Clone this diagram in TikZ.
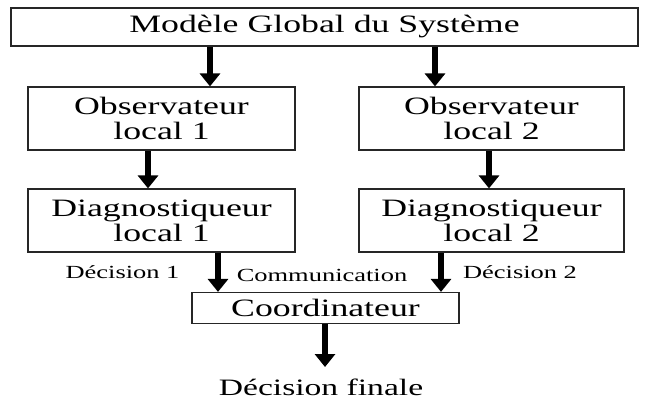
\documentclass[tikz,border=0pt]{standalone}
\usepackage{fontspec}
\setmainfont[FakeStretch=1.43]{Liberation Serif}
\usetikzlibrary{arrows.meta}
\begin{document}
\begin{tikzpicture}[x=1pt,y=-1pt,
  box/.style={draw=black!85, line width=1.2pt, inner sep=0pt, align=center,
    font=\fontsize{25}{25}\selectfont},
  bigarrow/.style={line width=6pt, -{Triangle[width=20pt,length=13pt]}},
  lbl/.style={anchor=base, inner sep=0pt, font=\fontsize{18.5}{20}\selectfont},
  final/.style={anchor=base, inner sep=0pt, font=\fontsize{23.5}{25}\selectfont}]
\useasboundingbox (0,0) rectangle (647,400);

% boxes
\node[box, minimum width=627pt, minimum height=38pt] (model) at (324.5,27) {Modèle Global du Système};
\node[box, minimum width=267pt, minimum height=63pt] (obs1) at (161.5,118.5) {Observateur\\local 1};
\node[box, minimum width=265pt, minimum height=63pt] (obs2) at (491.5,118.5) {Observateur\\local 2};
\node[box, minimum width=267pt, minimum height=63pt] (diag1) at (161.5,220.5) {Diagnostiqueur\\local 1};
\node[box, minimum width=265pt, minimum height=63pt] (diag2) at (491.5,220.5) {Diagnostiqueur\\local 2};
\node[box, minimum width=267pt, minimum height=31pt] (coord) at (325.5,308) {Coordinateur};

% texts
\node[lbl] (d1) at (122.5,278) {Décision 1};
\node[lbl] (comm) at (322,281) {Communication};
\node[lbl] (d2) at (520,278) {Décision 2};
\node[final] (fin) at (321,395) {Décision finale};

% arrow columns
\coordinate (c1) at (210,0);
\coordinate (c2) at (435,0);
\coordinate (c3) at (148,0);
\coordinate (c4) at (489,0);
\coordinate (c5) at (218,0);
\coordinate (c6) at (441,0);
\coordinate (c7) at (325,0);
\coordinate (finTop) at (325,367);

% arrows
\draw[bigarrow] (model.south -| c1) -- (obs1.north -| c1);
\draw[bigarrow] (model.south -| c2) -- (obs2.north -| c2);
\draw[bigarrow] (obs1.south -| c3) -- (diag1.north -| c3);
\draw[bigarrow] (obs2.south -| c4) -- (diag2.north -| c4);
\draw[bigarrow] (diag1.south -| c5) -- (coord.north -| c5);
\draw[bigarrow] (diag2.south -| c6) -- (coord.north -| c6);
\draw[bigarrow] (coord.south -| c7) -- (finTop);
\end{tikzpicture}
\end{document}
